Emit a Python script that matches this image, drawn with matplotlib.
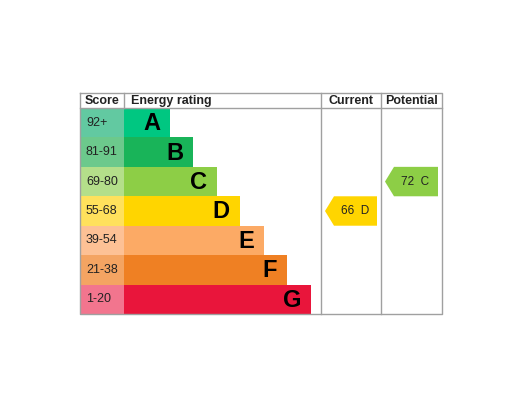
import matplotlib.pyplot as plt
from matplotlib.patches import Polygon

plt.rcParams['font.family'] = ['Liberation Sans', 'DejaVu Sans']

# band data
letters = ['A', 'B', 'C', 'D', 'E', 'F', 'G']
scores = ['92+', '81-91', '69-80', '55-68', '39-54', '21-38', '1-20']
bar_len = [46, 69, 93, 116, 140, 163, 187]
bar_colors = ['#00c781', '#19b459', '#8dce46', '#ffd500', '#fcaa65', '#ef8023', '#e9153b']
score_colors = ['#62c9a1', '#6cc98c', '#b4df8a', '#ffe15c', '#fdc195', '#f4a462', '#f2758e']

current_value = 66
current_band = 'D'
potential_value = 72
potential_band = 'C'

# table frame (pixels)
x0, x1, x2, x3, x4 = 80, 124, 321, 381, 442
y_top, y_head, y_bot = 93, 108, 314
row_h = (y_bot - y_head) / len(letters)

fig = plt.figure(figsize=(5.22, 4.05), dpi=100)
ax = fig.add_axes([0, 0, 1, 1])
ax.set_xlim(0, 522)
ax.set_ylim(405, 0)
ax.axis('off')

ys = [y_head + row_h * (i + 0.5) for i in range(len(letters))]

# score cells + rating bars
ax.barh(ys, [x1 - x0] * len(letters), left=x0, height=row_h, color=score_colors, zorder=1)
ax.barh(ys, bar_len, left=x1, height=row_h, color=bar_colors, zorder=1)

for i in range(len(letters)):
    ax.text(x0 + 6, ys[i], scores[i], ha='left', va='center', fontsize=9, color='#222222')
    ax.text(x1 + bar_len[i] - 10, ys[i] + 1, letters[i], ha='right', va='center',
            fontsize=17, fontweight='bold', color='black')

# grid lines
lc = '#a0a0a0'
ax.plot([x0, x4, x4, x0, x0], [y_top, y_top, y_bot, y_bot, y_top], color=lc, lw=1, zorder=3)
ax.plot([x0, x4], [y_head, y_head], color=lc, lw=1, zorder=3)
ax.plot([x1, x1], [y_top, y_head], color=lc, lw=1, zorder=3)
ax.plot([x2, x2], [y_top, y_bot], color=lc, lw=1, zorder=3)
ax.plot([x3, x3], [y_top, y_bot], color=lc, lw=1, zorder=3)

# headers
hy = (y_top + y_head) / 2 + 0.5
ax.text(x0 + 5, hy, 'Score', ha='left', va='center', fontsize=9, fontweight='bold', color='#222222')
ax.text(x1 + 7, hy, 'Energy rating', ha='left', va='center', fontsize=9, fontweight='bold', color='#222222')
ax.text((x2 + x3) / 2, hy, 'Current', ha='center', va='center', fontsize=9, fontweight='bold', color='#222222')
ax.text((x3 + x4) / 2, hy, 'Potential', ha='center', va='center', fontsize=9, fontweight='bold', color='#222222')


def arrow(xl, xr, band, value):
    i = letters.index(band)
    yc = ys[i]
    top, bot = yc - row_h / 2, yc + row_h / 2
    pts = [(xl + 4, yc), (xl + 13, top), (xr - 4, top), (xr - 4, bot), (xl + 13, bot)]
    ax.add_patch(Polygon(pts, closed=True, facecolor=bar_colors[i], edgecolor='none', zorder=2))
    ax.text((xl + xr) / 2 + 4, yc, '%d  %s' % (value, band), ha='center', va='center',
            fontsize=8.5, color='#222222', zorder=4)


arrow(x2, x3, current_band, current_value)
arrow(x3, x4, potential_band, potential_value)

fig.savefig('out.png', dpi=100)
